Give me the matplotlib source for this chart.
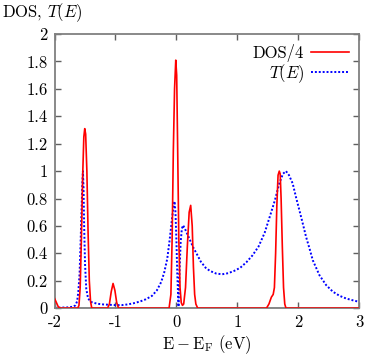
import matplotlib
matplotlib.use("Agg")
import matplotlib.pyplot as plt

plt.rcParams['font.family'] = ['cmr10', 'DejaVu Serif']
plt.rcParams['mathtext.fontset'] = 'cm'
plt.rcParams['axes.unicode_minus'] = False
plt.rcParams['axes.formatter.use_mathtext'] = False

# DOS/4 (red)
dos_E = [-2.00, -1.97, -1.94, -1.91, -1.62, -1.60, -1.58, -1.56, -1.54, -1.52, -1.505, -1.49,
         -1.47, -1.45, -1.43, -1.41, -1.39, -1.13, -1.10, -1.07, -1.04, -1.01, -0.98, -0.95,
         -0.12, -0.09, -0.07, -0.05, -0.03, -0.01, 0.005, 0.02, 0.04, 0.06, 0.08, 0.10, 0.12,
         0.15, 0.18, 0.21, 0.235, 0.26, 0.28, 0.30, 0.32, 0.35, 1.48, 1.52, 1.56, 1.59, 1.61,
         1.63, 1.65, 1.67, 1.69, 1.705, 1.72, 1.74, 1.76, 1.78, 1.80, 3.00]
dos_V = [0.07, 0.04, 0.01, 0.0, 0.0, 0.02, 0.15, 0.5, 0.95, 1.25, 1.31, 1.27,
         1.0, 0.55, 0.2, 0.05, 0.0, 0.0, 0.03, 0.12, 0.18, 0.13, 0.04, 0.0,
         0.0, 0.1, 0.5, 1.15, 1.6, 1.81, 1.7, 1.2, 0.5, 0.15, 0.04, 0.02, 0.03,
         0.15, 0.45, 0.7, 0.75, 0.6, 0.3, 0.1, 0.03, 0.0, 0.0, 0.03, 0.08, 0.1, 0.15,
         0.4, 0.75, 0.97, 1.0, 0.98, 0.8, 0.45, 0.15, 0.03, 0.0, 0.0]

# T(E) (blue)
t_E = [-2.00, -1.80, -1.70, -1.66, -1.63, -1.61, -1.59, -1.575, -1.56, -1.545, -1.535, -1.525,
       -1.515, -1.50, -1.48, -1.45, -1.40, -1.30, -1.20, -1.00, -0.90, -0.80, -0.70, -0.60,
       -0.50, -0.40, -0.32, -0.25, -0.20, -0.15, -0.11, -0.07, -0.04, -0.03, -0.015, 0.0,
       0.015, 0.035, 0.05, 0.07, 0.09, 0.11, 0.14, 0.18, 0.22, 0.28, 0.33, 0.40, 0.48, 0.55,
       0.65, 0.75, 0.85, 0.95, 1.05, 1.15, 1.25, 1.35, 1.45, 1.55, 1.62, 1.69, 1.75, 1.80,
       1.85, 1.91, 1.97, 2.02, 2.08, 2.13, 2.19, 2.24, 2.30, 2.35, 2.46, 2.57, 2.68, 2.79,
       2.90, 3.00]
t_V = [0.003, 0.005, 0.01, 0.02, 0.05, 0.12, 0.25, 0.45, 0.68, 0.9, 1.0, 0.88,
       0.6, 0.32, 0.14, 0.07, 0.045, 0.032, 0.027, 0.022, 0.022, 0.027, 0.036, 0.048,
       0.065, 0.09, 0.13, 0.19, 0.26, 0.36, 0.5, 0.66, 0.76, 0.78, 0.7, 0.5,
       0.25, 0.01, 0.25, 0.48, 0.58, 0.605, 0.58, 0.54, 0.5, 0.44, 0.40, 0.34, 0.295, 0.272,
       0.253, 0.247, 0.255, 0.272, 0.295, 0.335, 0.385, 0.45, 0.55, 0.69, 0.79, 0.91, 0.98, 1.0,
       0.97, 0.91, 0.8, 0.715, 0.61, 0.52, 0.43, 0.35, 0.29, 0.24, 0.168, 0.12, 0.09, 0.07,
       0.057, 0.046]

xticks = [-2, -1, 0, 1, 2, 3]
yticks = [0, 0.2, 0.4, 0.6, 0.8, 1, 1.2, 1.4, 1.6, 1.8, 2]
ytick_labels = ['0', '0.2', '0.4', '0.6', '0.8', '1', '1.2', '1.4', '1.6', '1.8', '2']

fig = plt.figure(figsize=(3.74, 3.55), dpi=100)
ax = fig.add_axes([0.146, 0.132, 0.814, 0.772])

ax.plot(dos_E, dos_V, color='#ff0000', lw=1.2, label='DOS/4', zorder=3)
ax.plot(t_E, t_V, color='#0000ff', lw=1.4, linestyle=(0, (1, 1)), label='$T(E)$', zorder=2)

ax.set_xlim(-2, 3)
ax.set_ylim(0, 2)
ax.set_xticks(xticks)
ax.set_xticklabels([str(v) for v in xticks])
ax.set_yticks(yticks)
ax.set_yticklabels(ytick_labels)

for sp in ax.spines.values():
    sp.set_color('#808080')
    sp.set_linewidth(1.3)
ax.tick_params(direction='in', top=True, right=True, length=4, width=1, color='#606060',
               labelsize=12, pad=5)
ax.axhline(0, color='black', lw=1.0, zorder=1)

ax.set_xlabel(r'$\mathrm{E} - \mathrm{E_F}$ (eV)', fontsize=12, labelpad=2)
fig.text(0.005, 0.965, 'DOS, $T(E)$', fontsize=12, ha='left', va='center')

leg = ax.legend(loc='upper right', frameon=False, markerfirst=False, fontsize=12,
                handlelength=2.3, handletextpad=0.4, labelspacing=0.0,
                borderaxespad=0.2)
for t in leg.get_texts():
    t.set_ha('right')

fig.savefig('out.png', dpi=100)
